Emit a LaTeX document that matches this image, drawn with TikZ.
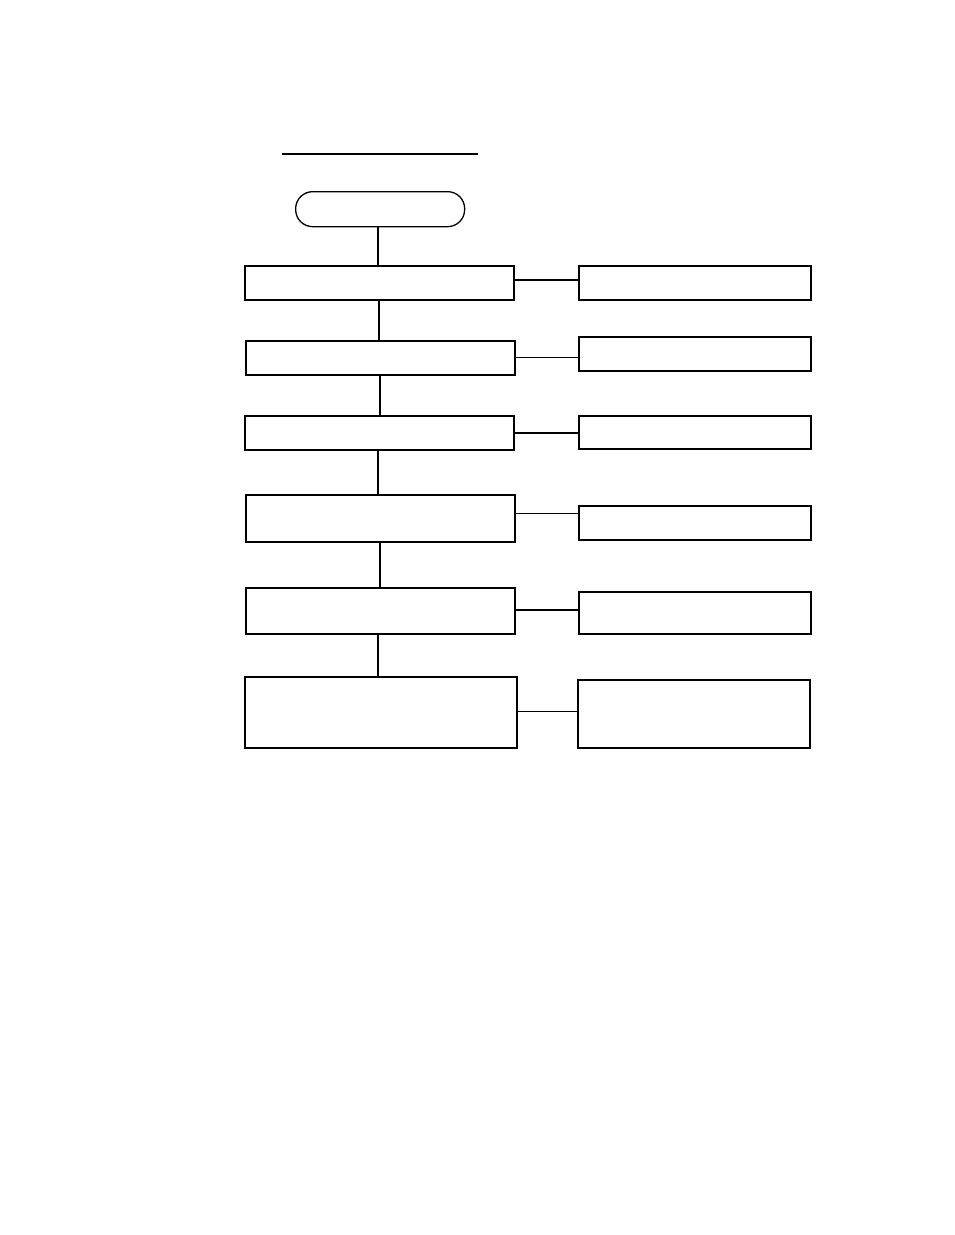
\documentclass[tikz,border=0pt]{standalone}
\begin{document}
\begin{tikzpicture}[x=1pt,y=-1pt,
  box/.style={draw,line width=1.5pt,rectangle,inner sep=0pt,anchor=north west},
  term/.style={draw,line width=1.3pt,rounded corners=17pt,inner sep=0pt,anchor=north west},
  thickc/.style={line width=2.2pt},
  thinc/.style={line width=1pt}]
\useasboundingbox (0,0) rectangle (954,1235);
\fill[white] (0,0) rectangle (954,1235);
% title underline
\coordinate (tl) at (282,154);
\coordinate (tr) at (478,154);
\draw[line width=2pt] (tl) -- (tr);
% start terminal
\node[term,minimum width=169pt,minimum height=35pt] (S) at (295,191) {};
% left boxes
\node[box,minimum width=269pt,minimum height=34pt] (L1) at (244,265) {};
\node[box,minimum width=269pt,minimum height=34pt] (L2) at (245,340) {};
\node[box,minimum width=269pt,minimum height=34pt] (L3) at (244,415) {};
\node[box,minimum width=269pt,minimum height=47pt] (L4) at (245,494) {};
\node[box,minimum width=269pt,minimum height=46pt] (L5) at (245,587) {};
\node[box,minimum width=272pt,minimum height=71pt] (L6) at (244,676) {};
% right boxes
\node[box,minimum width=232pt,minimum height=34pt] (R1) at (578,265) {};
\node[box,minimum width=232pt,minimum height=34pt] (R2) at (578,336) {};
\node[box,minimum width=232pt,minimum height=33pt] (R3) at (578,415) {};
\node[box,minimum width=232pt,minimum height=34pt] (R4) at (578,505) {};
\node[box,minimum width=232pt,minimum height=42pt] (R5) at (578,591) {};
\node[box,minimum width=232pt,minimum height=68pt] (R6) at (577,679) {};
% vertical connectors
\draw[thickc] ([xshift=-2pt]S.south) -- ([xshift=-2pt]S.south |- L1.north);
\draw[thickc] (L1.south) -- (L1.south |- L2.north);
\draw[thickc] (L2.south) -- (L2.south |- L3.north);
\draw[thickc] ([xshift=-1.5pt]L3.south) -- ([xshift=-1.5pt]L3.south |- L4.north);
\draw[thickc] (L4.south) -- (L4.south |- L5.north);
\draw[thickc] ([xshift=-2.5pt]L5.south) -- ([xshift=-2.5pt]L5.south |- L6.north);
% horizontal connectors
\draw[thickc] ([yshift=3pt]L1.east) -- ([yshift=3pt]L1.east -| R1.west);
\draw[thinc] (L2.east) -- (L2.east -| R2.west);
\draw[thickc] (L3.east) -- (L3.east -| R3.west);
\draw[thinc] ([yshift=5pt]L4.east) -- ([yshift=5pt]L4.east -| R4.west);
\draw[thickc] ([yshift=1pt]L5.east) -- ([yshift=1pt]L5.east -| R5.west);
\draw[thinc] ([yshift=1pt]L6.east) -- ([yshift=1pt]L6.east -| R6.west);
\end{tikzpicture}
\end{document}
